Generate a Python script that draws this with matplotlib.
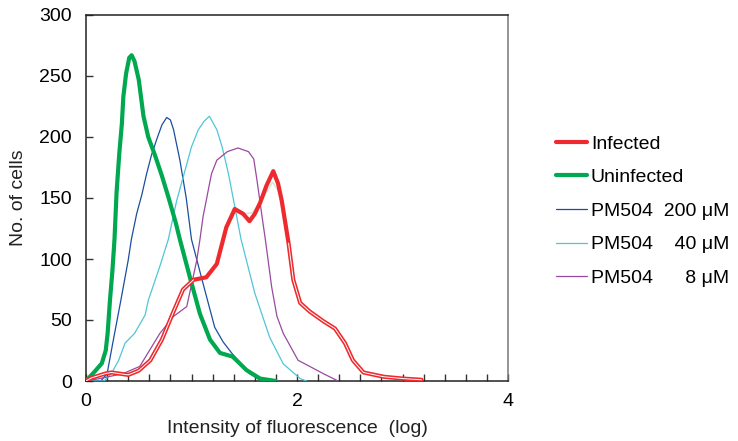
import numpy as np
import matplotlib
matplotlib.use('Agg')
import matplotlib.pyplot as plt

plt.rcParams['font.family'] = ['Liberation Sans', 'DejaVu Sans']

uninf_x = [0, 0.085, 0.15, 0.187, 0.205, 0.227, 0.25, 0.27, 0.29, 0.316, 0.34, 0.354, 0.38,
           0.41, 0.433, 0.46, 0.50, 0.545, 0.59, 0.654, 0.72, 0.78, 0.85, 0.89, 0.985, 1.08,
           1.175, 1.27, 1.39, 1.45, 1.52, 1.65, 1.8]
uninf_y = [0, 8, 14.5, 25, 39, 66, 90, 116, 155, 187, 211, 233, 252,
           265, 267, 262, 247, 217, 200, 185, 168, 151, 130, 116, 85, 55,
           34, 23, 20, 15, 9, 2, 0]

pm200_x = [0, 0.14, 0.2, 0.26, 0.33, 0.40, 0.43, 0.48, 0.53, 0.575, 0.62, 0.67, 0.72,
           0.765, 0.80, 0.83, 0.89, 0.95, 1.0, 1.1, 1.22, 1.3, 1.38, 1.47, 1.55, 1.65, 1.75]
pm200_y = [0, 0, 6, 34, 66, 99, 116, 137, 153, 170, 185, 198, 210,
           216, 214, 206, 181, 150, 116, 83, 44, 32, 23, 14, 6, 1, 0]

pm40_x = [0, 0.17, 0.24, 0.31, 0.37, 0.46, 0.56, 0.59, 0.70, 0.78, 0.86, 0.94, 1.0, 1.065,
          1.12, 1.17, 1.24, 1.29, 1.35, 1.41, 1.47, 1.60, 1.74, 1.87, 2.03, 2.09]
pm40_y = [0, 0, 6, 17, 31, 39, 54, 66, 94, 116, 148, 173, 192, 206,
          213, 217, 206, 192, 170, 143, 116, 72, 36, 14, 2, 0]

pm8_x = [0, 0.13, 0.35, 0.51, 0.70, 0.83, 0.955, 1.05, 1.08, 1.11, 1.14, 1.16, 1.19, 1.24,
         1.34, 1.44, 1.54, 1.59, 1.62, 1.665, 1.70, 1.76, 1.81, 1.87, 2.01, 2.12, 2.25, 2.39]
pm8_y = [0, 2, 6, 12, 39, 53, 61, 99, 116, 135, 148, 157, 170, 181,
         188, 191, 188, 182, 165, 137, 116, 77, 53, 39, 17, 12, 6, 0]

inf_x = [0, 0.05, 0.18, 0.24, 0.40, 0.50, 0.61, 0.72, 0.83, 0.92, 1.02, 1.14, 1.24, 1.33,
         1.41, 1.45, 1.49, 1.55, 1.60, 1.65, 1.71, 1.775, 1.82, 1.855, 1.92, 1.965, 2.03,
         2.12, 2.25, 2.36, 2.455, 2.53, 2.63, 2.82, 3.0, 3.18]
inf_y = [0, 2.5, 6, 7, 5, 8.5, 17, 34, 57, 75, 83, 85, 96, 126,
         141, 139, 137, 131, 137, 146, 160, 172, 162, 148, 113, 83, 64,
         57, 49, 43, 31, 17, 7, 3.5, 2, 1]

# faint trace lying under the infected curve
shadow_x = [1.33, 1.41, 1.50, 1.58, 1.66, 1.77, 1.83, 1.90]
shadow_y = [124, 138, 137, 138, 148, 163, 155, 120]

labels = ['Infected', 'Uninfected', 'PM504  200 \u03bcM', 'PM504    40 \u03bcM', 'PM504      8 \u03bcM']

fig = plt.figure(figsize=(7.38, 4.41), dpi=100)
ax = fig.add_axes([86 / 738, 60 / 441, 422 / 738, 366 / 441])

style = dict(solid_joinstyle='round', solid_capstyle='round')
ax.plot(shadow_x, shadow_y, color='#d3ead3', lw=1.2, zorder=1, **style)
l_inf, = ax.plot(inf_x, inf_y, color='#ee2a2e', lw=3.0, zorder=5, **style)
ix = np.array(inf_x)
iy = np.array(inf_y, dtype=float)
ax.plot(ix, np.where((ix <= 1.02) | (ix >= 1.92), iy, np.nan), color='white', lw=0.7,
        zorder=6, **style)
l_un, = ax.plot(uninf_x, uninf_y, color='#00a84f', lw=3.0, zorder=4, **style)
l_200, = ax.plot(pm200_x, pm200_y, color='#1a4fa0', lw=0.9, zorder=3, **style)
l_40, = ax.plot(pm40_x, pm40_y, color='#4fc6d6', lw=0.9, zorder=3, **style)
l_8, = ax.plot(pm8_x, pm8_y, color='#984aa0', lw=0.9, zorder=3, **style)

ax.set_xlim(0, 4)
ax.set_ylim(0, 300)
ax.set_xticks([0, 2, 4])
ax.set_xticks(np.arange(0.2, 4.0, 0.2), minor=True)
ax.set_yticks(np.arange(0, 301, 50))
ax.tick_params(axis='both', which='both', direction='in', labelsize=14, width=1, color='#333333')
ax.tick_params(axis='x', which='major', length=5, pad=9)
ax.tick_params(axis='x', which='minor', length=5)
ax.tick_params(axis='y', which='major', length=5, pad=10)
for s in ['left', 'bottom', 'top']:
    ax.spines[s].set_linewidth(1.1)
    ax.spines[s].set_color('#222222')
ax.spines['right'].set_color('#777777')
ax.spines['right'].set_linewidth(1.1)

ax.set_xlabel('Intensity of fluorescence  (log)', fontsize=14, labelpad=7, color='#222222')
ax.set_ylabel('No. of cells', fontsize=14, labelpad=9, color='#222222')

fig.legend([l_inf, l_un, l_200, l_40, l_8], labels, loc='center left',
           bbox_to_anchor=(556 / 738, 1 - 211 / 441), frameon=False, fontsize=14,
           handlelength=1.6, handletextpad=0.2, labelspacing=0.82, borderpad=0,
           borderaxespad=0)

fig.savefig('out.png', dpi=100)
